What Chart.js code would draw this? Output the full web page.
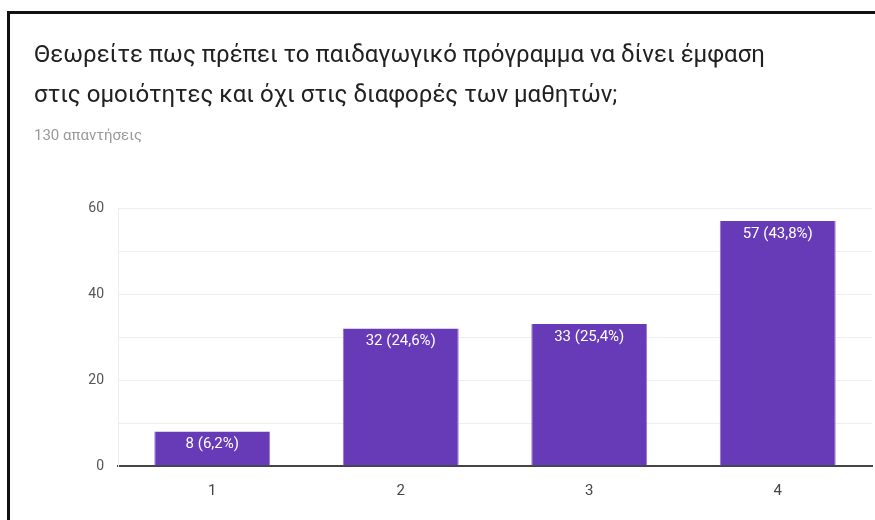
<!DOCTYPE html>
<html>
<head>
<meta charset="utf-8">
<script src="https://cdn.jsdelivr.net/npm/chart.js@4"></script>
<style>
    body { margin: 0; background: #fff; }
    #frame {
        position: absolute; left: 7px; top: 11px; width: 868px; height: 509px;
        border-top: 3px solid #111; border-left: 3px solid #111; box-sizing: border-box;
    }
    #wrap { position: absolute; left: 0; top: 0; width: 875px; height: 520px; }
</style>
</head>
<body>
<div id="frame"></div>
<div id="wrap"><canvas id="myChart"></canvas></div>
<script>
// chart data
const questionLines = [
    'Θεωρείτε πως πρέπει το παιδαγωγικό πρόγραμμα να δίνει έμφαση',
    'στις ομοιότητες και όχι στις διαφορές των μαθητών;'
];
const responsesText = '130 απαντήσεις';
const totalResponses = 130;
const categories = ['1', '2', '3', '4'];
const counts = [8, 32, 33, 57];
const yTickLabels = [0, 20, 40, 60];

// draws "n (p%)" inside the top of each bar
const barLabels =
{
    id: 'barLabels',
    afterDatasetsDraw(chart)
    {
        const ctx = chart.ctx;
        const meta = chart.getDatasetMeta(0);
        ctx.save();
        ctx.fillStyle = '#ffffff';
        ctx.font = '15px Roboto';
        ctx.textAlign = 'center';
        ctx.textBaseline = 'middle';
        meta.data.forEach(function(bar, i)
        {
            const v = counts[i];
            const pct = (v / totalResponses * 100).toFixed(1).replace('.', ',');
            ctx.fillText(v + ' (' + pct + '%)', bar.x, bar.y + 13);
        });
        ctx.restore();
    }
};

let myChart = document.getElementById('myChart').getContext('2d');

let chart_1 = new Chart(myChart,
{
    type: 'bar',
    data:
    {
        labels: categories,
        datasets:
        [{
            data: counts,
            backgroundColor: '#673ab7',
            borderColor: '#9575cd',
            borderWidth: {top: 0, left: 1, right: 1, bottom: 0},
            barPercentage: 0.615,
            categoryPercentage: 1.0
        }]
    },
    plugins: [barLabels],
    options:
    {
        responsive: true,
        maintainAspectRatio: false,
        animation: false,
        layout: { padding: {left: 34, right: 3, top: 0, bottom: 12} },
        plugins:
        {
            legend: { display: false },
            tooltip: { enabled: false },
            title:
            {
                display: true,
                text: questionLines,
                align: 'start',
                color: '#212121',
                font: {family: 'Roboto', size: 24, weight: 'normal', lineHeight: '40px'},
                padding: {top: 36, bottom: 11}
            },
            subtitle:
            {
                display: true,
                text: responsesText,
                align: 'start',
                color: '#999999',
                font: {family: 'Roboto', size: 15, lineHeight: '18px'},
                padding: {top: 0, bottom: 63}
            }
        },
        scales:
        {
            x:
            {
                grid: { display: false },
                border: { color: '#444444', width: 2 },
                ticks: { color: '#444444', font: {family: 'Roboto', size: 15}, padding: 8 }
            },
            y:
            {
                min: 0,
                max: 60,
                afterFit: function(s) { s.width = 84; },
                border: { color: '#eeeeee' },
                grid: { color: '#eeeeee', drawTicks: false },
                ticks:
                {
                    stepSize: 10,
                    padding: 14,
                    color: '#555555',
                    font: {family: 'Roboto', size: 14},
                    callback: function(v) { return yTickLabels.includes(v) ? v : ''; }
                }
            }
        }
    }
});
</script>
</body>
</html>
